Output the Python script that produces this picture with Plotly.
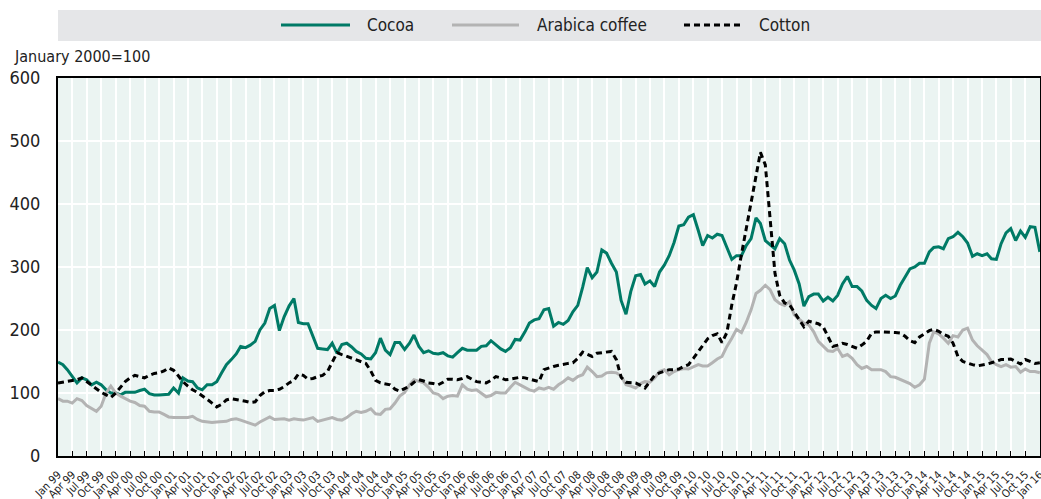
import pandas as pd
import plotly.graph_objects as go

# Monthly index values, January 2000 = 100 (Jan 1999 .. Jan 2016)
cocoa = [
    149, 145, 137, 126, 116, 124, 121, 113, 117, 113, 105, 100,
    100, 97, 101, 101, 101, 104, 106, 99, 97, 97, 97, 98,
    108, 100, 124, 119, 118, 108, 105, 113, 113, 118, 132, 145,
    153, 162, 174, 172, 176, 182, 200, 211, 234, 239, 199, 221,
    238, 250, 212, 210, 210, 189, 171, 170, 169, 179, 163, 177,
    179, 173, 166, 162, 155, 154, 164, 187, 168, 161, 180, 180,
    169, 179, 192, 174, 164, 167, 163, 162, 164, 159, 157, 164,
    171, 168, 168, 168, 174, 175, 183, 176, 170, 166, 172, 185,
    184, 197, 211, 216, 218, 232, 234, 206, 212, 209, 215, 229,
    239, 268, 299, 283, 292, 327, 322, 306, 292, 247, 225, 261,
    286, 288, 273, 278, 269, 292, 303, 318, 339, 365, 367, 379,
    383, 358, 334, 350, 346, 352, 350, 331, 312, 318, 318, 334,
    345, 378, 369, 342, 336, 329, 345, 337, 311, 295, 273, 238,
    253, 257, 257, 246, 252, 246, 255, 273, 285, 269, 269, 262,
    247, 239, 234, 250, 255, 250, 254, 271, 284, 297, 300, 306,
    306, 324, 331, 332, 329, 345, 348, 355, 348, 338, 317, 321,
    318, 321, 313, 312, 337, 354, 361, 342, 357, 347, 364, 363,
    324,
]

arabica = [
    91, 87, 87, 84, 91, 88, 80, 76, 71, 79, 100, 111,
    100, 95, 91, 87, 85, 80, 79, 71, 70, 70, 66, 62,
    61, 61, 61, 61, 63, 58, 55, 54, 53, 54, 54, 55,
    58, 59, 57, 54, 52, 49, 54, 58, 62, 58, 59, 59,
    57, 59, 58, 57, 59, 61, 55, 57, 58, 61, 58, 57,
    61, 67, 71, 69, 71, 75, 67, 66, 74, 75, 84, 95,
    101, 113, 121, 118, 116, 109, 100, 98, 91, 95, 96, 95,
    113, 106, 104, 105, 99, 94, 96, 101, 100, 100, 109, 117,
    113, 109, 105, 103, 108, 106, 109, 106, 113, 118, 124, 120,
    126, 129, 141, 134, 126, 127, 132, 133, 132, 127, 113, 111,
    108, 115, 118, 117, 124, 134, 137, 129, 134, 137, 139, 138,
    141, 145, 143, 143, 148, 154, 158, 174, 187, 201, 196, 212,
    232, 258, 263, 271, 264, 248, 242, 239, 245, 224, 217, 211,
    208, 197, 182, 174, 167, 166, 171, 158, 161, 155, 145, 139,
    142, 137, 137, 137, 134, 126, 125, 122, 118, 115, 109, 113,
    122, 179, 197, 194, 187, 179, 191, 189, 200, 203, 184, 175,
    168, 161, 150, 145, 142, 145, 141, 142, 133, 138, 134, 134,
    132,
]

cotton = [
    116, 117, 118, 120, 121, 124, 118, 112, 106, 101, 97, 93,
    100, 110, 118, 124, 128, 126, 124, 128, 131, 132, 135, 140,
    136, 127, 118, 111, 105, 101, 96, 90, 84, 78, 82, 89,
    91, 90, 89, 87, 85, 86, 96, 102, 104, 104, 106, 110,
    116, 120, 130, 128, 122, 123, 126, 128, 134, 150, 164, 161,
    158, 155, 152, 150, 147, 135, 120, 116, 114, 113, 106, 103,
    107, 111, 117, 121, 119, 116, 115, 113, 117, 122, 122, 121,
    123, 126, 122, 118, 117, 116, 120, 126, 124, 121, 122, 124,
    125, 124, 122, 121, 118, 137, 140, 142, 144, 146, 147, 148,
    155, 165, 162, 158, 163, 164, 165, 166, 153, 125, 117, 117,
    116, 112, 108, 118, 128, 132, 135, 137, 137, 138, 142, 145,
    155, 166, 177, 186, 191, 194, 180, 196, 240, 275, 320, 360,
    400, 440, 482, 462, 380, 290, 255, 243, 240, 229, 218, 205,
    214, 212, 210, 205, 190, 174, 176, 179, 177, 174, 171, 176,
    182, 195, 197, 197, 197, 197, 196, 195, 190, 183, 180, 189,
    194, 199, 201, 198, 193, 190, 179, 158, 150, 147, 145, 143,
    144, 146, 148, 150, 153, 153, 154, 150, 146, 153, 150, 147,
    148,
]

series_names = ["Cocoa", "Arabica coffee", "Cotton"]
y_label = "January 2000=100"

COCOA = "#007a66"
COFFEE = "#b3b3b3"
COTTON = "#000000"
FONT = "Liberation Sans Narrow, DejaVu Sans Condensed, Arial Narrow, sans-serif"

def months(n):
    return pd.date_range("1999-01-01", periods=n, freq="MS")

fig = go.Figure()
fig.add_trace(go.Scatter(x=months(len(cocoa)), y=cocoa, mode="lines", name=series_names[0],
                         line=dict(color=COCOA, width=3)))
fig.add_trace(go.Scatter(x=months(len(arabica)), y=arabica, mode="lines", name=series_names[1],
                         line=dict(color=COFFEE, width=3)))
fig.add_trace(go.Scatter(x=months(len(cotton)), y=cotton, mode="lines", name=series_names[2],
                         line=dict(color=COTTON, width=3, dash="6px,4px")))

# legend band and manual legend
PW = 982.0
PH = 378.0
def px_x(p):
    return (p - 58) / PW
def px_y(p):
    return (456 - p) / PH

shapes = [dict(type="rect", xref="paper", yref="paper", x0=0, x1=px_x(1041),
               y0=px_y(41), y1=px_y(10), fillcolor="#e5e6e8", line=dict(width=0), layer="below")]
leg = [(281, 350, 365, COCOA, "solid"), (452, 519, 535, COFFEE, "solid"),
       (684, 744, 757, COTTON, "6px,4px")]
annotations = []
for (a, b, t, c, d), name in zip(leg, series_names):
    shapes.append(dict(type="line", xref="paper", yref="paper", x0=px_x(a), x1=px_x(b),
                       y0=px_y(25), y1=px_y(25), line=dict(color=c, width=3, dash=d)))
    annotations.append(dict(xref="paper", yref="paper", x=px_x(t), y=px_y(25), text=name,
                            showarrow=False, xanchor="left", yanchor="middle",
                            font=dict(size=17, color="#222222", family=FONT)))
annotations.append(dict(xref="paper", yref="paper", x=px_x(12), y=px_y(57), text=y_label,
                        showarrow=False, xanchor="left", yanchor="middle",
                        font=dict(size=16, color="#222222", family=FONT)))

fig.update_layout(
    width=1041, height=499, autosize=False,
    margin=dict(l=58, r=1, t=78, b=43),
    paper_bgcolor="white", plot_bgcolor="#ebf4f2",
    showlegend=False,
    font=dict(family=FONT, color="#222222"),
    shapes=shapes, annotations=annotations,
    xaxis=dict(type="date", range=["1999-01-01", "2016-01-02"], automargin=False,
               tick0="1999-01-01", dtick="M3", tickformat="%b %y", tickangle=-45,
               ticks="inside", ticklen=5, tickwidth=1, tickcolor="black",
               ticklabelstandoff=6, ticklabeloverflow="allow",
               showgrid=True, gridcolor="white", gridwidth=1.5,
               showline=True, linecolor="black", linewidth=2, mirror=True,
               tickfont=dict(size=11, color="#222222", family=FONT), zeroline=False),
    yaxis=dict(range=[0, 600], dtick=100, showgrid=True, gridcolor="white", gridwidth=1.5,
               showline=True, linecolor="black", linewidth=2, mirror=True, automargin=False,
               ticks="", ticklabelstandoff=12, zeroline=False,
               tickfont=dict(size=18, color="#222222", family=FONT)),
)

fig.write_html("out.html", config={"displayModeBar": False},
               post_script="document.body.style.margin='0';document.body.style.overflow='hidden';")
